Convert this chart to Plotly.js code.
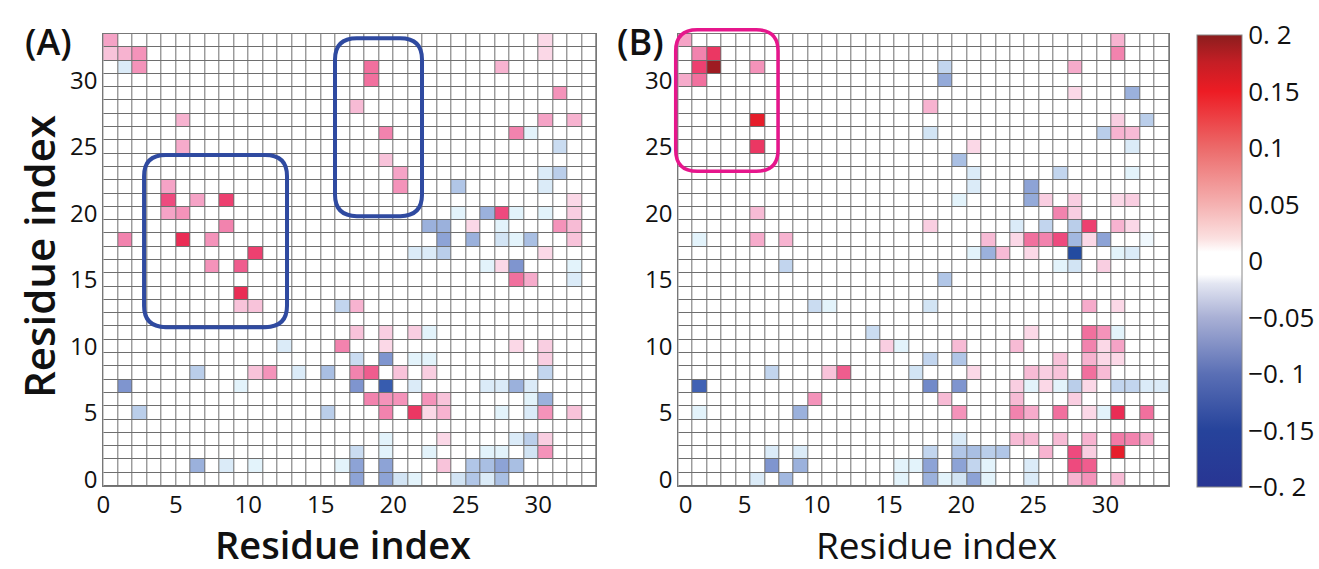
<!DOCTYPE html>
<html><head><meta charset="utf-8">
<script src="https://cdn.plot.ly/plotly-3.0.1.min.js"></script>
<style>html,body{margin:0;padding:0;background:#fff;}#plot{width:1319px;height:569px;}</style>
</head><body><div id="plot"></div>
<script>
// ---- Data: sparse non-zero cells (column residue, row residue, value) ----
const nRes = 34;
const tickLabels = ["0","5","10","15","20","25","30"];
const cbTickVals = [-0.2,-0.15,-0.1,-0.05,0,0.05,0.1,0.15,0.2];
const cbTickText = ["\u22120. 2","\u22120.15","\u22120. 1","\u22120.05","0","0.05","0.1","0.15","0. 2"];

// Panel A
const aCol = [0,30, 0,1,2,30, 1,2,18,27, 18, 31, 17, 5,30,32, 19,28,29, 5,31, 19, 20,30,31, 4,20,24,30,
  4,6,8,32, 4,5,24,26,27,28,30,32, 8,22,23,25,27,31,32, 1,5,7,23,25,27,28,29,32, 10,21,22,23,30,
  7,9,26,27,28,32, 28,29,32, 9, 9,10,16,17, 17,19,21,22, 12,16,19,28,30, 17,19,21,22,30,
  6,10,11,13,15,17,18,20,22,30, 1,9,17,19,21,26,27,28,29, 18,19,20,22,23,29,30,
  2,15,19,21,22,23,27,29,30,32, 19,23,28,29,30, 17,19,22,26,27,29,30,
  6,8,10,16,17,19,23,25,26,27,28, 17,19,20,21,24,25,26,27];
const aRow = [33,33, 32,32,32,32, 31,31,31,31, 30, 29, 28, 27,27,27, 26,26,26, 25,25, 24, 23,23,23, 22,22,22,22,
  21,21,21,21, 20,20,20,20,20,20,20,20, 19,19,19,19,19,19,19, 18,18,18,18,18,18,18,18,18, 17,17,17,17,17,
  16,16,16,16,16,16, 15,15,15, 14, 13,13,13,13, 11,11,11,11, 10,10,10,10,10, 9,9,9,9,9,
  8,8,8,8,8,8,8,8,8,8, 7,7,7,7,7,7,7,7,7, 6,6,6,6,6,6,6,
  5,5,5,5,5,5,5,5,5,5, 3,3,3,3,3, 2,2,2,2,2,2,2,
  1,1,1,1,1,1,1,1,1,1,1, 0,0,0,0,0,0,0,0];
const aVal = [0.05,0.02, 0.03,0.04,0.06,0.02, -0.02,0.06,0.08,0.04, 0.08, 0.06, 0.035, 0.04,0.05,0.04, 0.07,0.07,-0.015, 0.045,-0.03, 0.03, 0.05,-0.02,-0.04, 0.05,0.06,-0.045,-0.02,
  0.1,0.05,0.11,0.02, 0.05,0.06,-0.015,-0.06,0.1,-0.015,-0.015,0.025, 0.07,-0.06,-0.06,0.02,-0.015,0.06,0.035, 0.07,0.13,0.06,-0.07,-0.06,-0.025,-0.015,-0.05,0.03, 0.11,-0.02,-0.02,-0.04,0.02,
  0.06,0.09,-0.015,0.02,-0.08,-0.015, 0.08,0.045,-0.02, 0.13, 0.03,0.03,-0.035,0.04, 0.03,0.025,0.025,-0.015, -0.02,0.07,0.02,0.02,0.025, -0.03,-0.08,-0.015,-0.015,0.025,
  -0.04,0.03,0.06,-0.02,-0.05,0.07,0.09,0.03,0.025,-0.035, -0.08,-0.015,-0.08,-0.14,-0.02,-0.02,-0.02,-0.06,-0.02, 0.07,0.06,0.06,0.06,0.03,-0.015,-0.06,
  -0.04,-0.04,0.07,0.12,0.02,0.04,-0.015,-0.02,0.06,0.03, -0.015,0.02,-0.02,-0.04,0.025, -0.03,-0.015,-0.015,-0.015,-0.015,-0.025,0.06,
  -0.06,-0.02,-0.015,-0.015,-0.07,-0.07,0.03,-0.045,-0.05,-0.07,-0.05, -0.07,-0.07,-0.025,-0.015,-0.025,-0.045,-0.02,-0.05];

// Panel B
const bCol = [0,30, 1,2,30, 1,2,5,18,27, 0,1,18, 27,31, 17, 5,30,32, 17,29,30,31, 5,20,31, 19, 20,26,31, 20,24,
  19,24,25,27,30,31, 5,26,27, 17,23,25,27,28,30,31, 1,5,7,21,23,24,25,26,27,28,29,32, 20,21,22,24,27,30,31,
  7,26,27,29, 18, 9,10,17,28,30, 13,24,28,29,30, 14,15,19,23,28,29,30, 17,19,26,28,29,30,
  6,10,11,16,20,24,25,26,28,29, 1,17,19,23,24,25,26,27,28,30,31,32,33, 9,18,23,27,
  1,8,19,23,24,26,28,29,30,32, 19,23,24,26,28,30,31,32, 6,8,17,19,20,21,22,25,27,28,30,
  6,8,15,16,17,19,20,21,24,27,28, 5,7,15,17,18,19,20,21,24,27,28,30];
const bRow = [33,33, 32,32,32, 31,31,31,31,31, 30,30,30, 29,29, 28, 27,27,27, 26,26,26,26, 25,25,25, 24, 23,23,23, 22,22,
  21,21,21,21,21,21, 20,20,20, 19,19,19,19,19,19,19, 18,18,18,18,18,18,18,18,18,18,18,18, 17,17,17,17,17,17,17,
  16,16,16,16, 15, 13,13,13,13,13, 11,11,11,11,11, 10,10,10,10,10,10,10, 9,9,9,9,9,9,
  8,8,8,8,8,8,8,8,8,8, 7,7,7,7,7,7,7,7,7,7,7,7,7, 6,6,6,6,
  5,5,5,5,5,5,5,5,5,5, 3,3,3,3,3,3,3,3, 2,2,2,2,2,2,2,2,2,2,2,
  1,1,1,1,1,1,1,1,1,1,1, 0,0,0,0,0,0,0,0,0,0,0,0];
const bVal = [0.05,0.04, 0.07,0.12,0.07, 0.11,0.19,0.06,-0.035,0.045, 0.045,0.08,-0.065, 0.02,-0.06, 0.04, 0.15,0.025,-0.04, -0.025,-0.04,0.04,0.035, 0.12,0.02,-0.02, -0.05, -0.02,-0.035,-0.015, -0.02,-0.07,
  -0.015,-0.065,0.025,0.025,0.02,0.025, 0.035,0.07,0.025, 0.025,-0.02,-0.035,-0.04,0.11,0.04,0.02, -0.015,0.045,0.04,0.035,0.02,0.08,0.07,0.1,-0.055,0.02,-0.07,-0.01, -0.015,-0.06,0.035,0.02,-0.17,-0.015,-0.02,
  -0.035,-0.015,-0.025,0.025, -0.045, -0.03,-0.015,-0.025,0.045,0.02, -0.03,0.02,0.08,0.06,-0.015, 0.025,-0.015,0.035,0.035,0.07,0.02,0.05, -0.035,-0.045,0.03,0.04,0.02,0.02,
  -0.035,0.03,0.09,-0.025,0.02,0.035,0.025,0.03,0.08,0.035, -0.13,-0.09,-0.08,0.025,-0.015,0.02,-0.015,-0.04,0.02,-0.035,-0.035,-0.02,-0.02, 0.06,0.035,0.035,0.025,
  -0.015,-0.06,0.06,0.07,0.045,0.08,0.02,-0.015,0.13,0.08, -0.02,0.035,0.035,0.035,0.04,0.075,0.07,0.045, -0.02,-0.02,-0.035,-0.045,-0.05,-0.04,-0.045,0.04,0.1,0.025,0.15,
  -0.08,-0.06,-0.015,-0.015,-0.07,-0.07,-0.035,-0.015,-0.02,0.1,0.09, -0.02,-0.055,-0.015,-0.06,-0.015,-0.025,-0.07,-0.015,-0.02,0.04,0.06,0.035];

// ---- build matrices ----
function buildZ(cols, rows, vals){
  const z = [];
  for (let r = 0; r < nRes; r++){ z.push(new Array(nRes).fill(0)); }
  for (let i = 0; i < vals.length; i++){ z[rows[i]][cols[i]] = vals[i]; }
  return z;
}
const idx = Array.from({length:nRes},(_,i)=>i);
const zA = buildZ(aCol, aRow, aVal);
const zB = buildZ(bCol, bRow, bVal);

const cellScale = [
  [0,'#1e3a8f'],[0.1,'#2450a6'],[0.2,'#4a68b8'],[0.3,'#7f95cf'],[0.375,'#a9bfe3'],
  [0.425,'#cadcf1'],[0.4625,'#e3f3fb'],[0.49,'#ffffff'],[0.51,'#ffffff'],[0.5375,'#fce3ee'],
  [0.575,'#f8c3da'],[0.625,'#f5a3c6'],[0.675,'#f283ae'],[0.75,'#ee4a7e'],[0.825,'#ea2d55'],
  [0.875,'#e61e2b'],[0.975,'#9e1b22'],[1,'#8a1a1e']];
const barScale = [
  [0,'#283593'],[0.125,'#26439b'],[0.25,'#5a6fb5'],[0.375,'#a9b0d5'],[0.45,'#e3e6f2'],
  [0.47,'#ffffff'],[0.52,'#ffffff'],[0.55,'#fbe0e0'],[0.625,'#f5b1b1'],[0.75,'#ec6a6a'],
  [0.875,'#ed1c24'],[0.94,'#c41e25'],[1,'#8b1d1d']];

const W = 1319, H = 569;
const FONT = 'Open Sans, Noto Sans, sans-serif';
const domA = [103.3/W, 596.3/W], domB = [678.3/W, 1169/W], domY = [(H-486)/H, (H-34)/H];
const axRange = [-0.5, 33.5];

const common = {type:'heatmap', x: idx, y: idx, zmin:-0.2, zmax:0.2, xgap:1, ygap:1,
  colorscale: cellScale, showscale:false, hoverinfo:'x+y+z'};

const traces = [
  Object.assign({}, common, {z: zA, xaxis:'x', yaxis:'y'}),
  Object.assign({}, common, {z: zB, xaxis:'x2', yaxis:'y2'}),
  // colour bar (legend of the colour scale)
  {type:'heatmap', z: zB, x: idx, y: idx, xaxis:'x2', yaxis:'y2', zmin:-0.2, zmax:0.2,
   colorscale: barScale, opacity:0, hoverinfo:'skip', showscale:true,
   colorbar:{x:1197/W, xref:'paper', xanchor:'left', y:(H-261)/H, yref:'paper', yanchor:'middle',
     len:452/H, lenmode:'fraction', thickness:45, thicknessmode:'pixels', xpad:0, ypad:0,
     outlinecolor:'#888', outlinewidth:1, ticks:'', tickvals: cbTickVals, ticktext: cbTickText,
     tickfont:{family:FONT, size:26, color:'#111'}}}
];

// rounded rectangle path, given in data units of a panel, drawn in paper units (not clipped)
function roundRect(dom, x0,x1,y0,y1,rx,ry){
  const px = v => dom[0] + (v - axRange[0]) / (axRange[1]-axRange[0]) * (dom[1]-dom[0]);
  const py = v => domY[0] + (v - axRange[0]) / (axRange[1]-axRange[0]) * (domY[1]-domY[0]);
  const X0=px(x0), X1=px(x1), Y0=py(y0), Y1=py(y1);
  const RX = px(x0+rx)-X0, RY = py(y0+ry)-Y0;
  return `M ${X0+RX},${Y1} L ${X1-RX},${Y1} Q ${X1},${Y1} ${X1},${Y1-RY} L ${X1},${Y0+RY} Q ${X1},${Y0} ${X1-RX},${Y0} ` +
         `L ${X0+RX},${Y0} Q ${X0},${Y0} ${X0},${Y0+RY} L ${X0},${Y1-RY} Q ${X0},${Y1} ${X0+RX},${Y1} Z`;
}

const axX = {range:axRange, showgrid:false, zeroline:false, showline:true, mirror:true,
  linecolor:'#777', linewidth:1, ticks:'', ticklabelstandoff:-3,
  tickfont:{family:FONT, size:24, color:'#111'}, fixedrange:true};
const axY = {range:axRange, showgrid:false, zeroline:false, showline:true, mirror:true,
  linecolor:'#777', linewidth:1, ticks:'', tickvals:[0,5,10,15,20,25,30], ticktext: tickLabels,
  tickfont:{family:FONT, size:24, color:'#111'}, fixedrange:true};

const layout = {
  width: W, height: H, margin:{l:0,r:0,t:0,b:0}, paper_bgcolor:'#fff', plot_bgcolor:'#6e6e6e',
  showlegend:false,
  xaxis: Object.assign({}, axX, {domain:domA, anchor:'y',
     tickvals:[-0.5,4.5,9.5,14.5,19.5,24.5,29.5], ticktext: tickLabels}),
  yaxis: Object.assign({}, axY, {domain:domY, anchor:'x'}),
  xaxis2: Object.assign({}, axX, {domain:domB, anchor:'y2',
     tickvals:[0,4.1,9.1,14.1,19.1,24.1,29.1], ticktext: tickLabels}),
  yaxis2: Object.assign({}, axY, {domain:domY, anchor:'x2'}),
  shapes: [
    {type:'path', xref:'paper', yref:'paper', path: roundRect(domA, 2.31,12.17,11.45,24.4,1.5,1.6), line:{color:'#2f4aa0', width:4}},
    {type:'path', xref:'paper', yref:'paper', path: roundRect(domA, 15.48,21.48,19.8,33.18,1.5,1.6), line:{color:'#2f4aa0', width:4}},
    {type:'path', xref:'paper', yref:'paper', path: roundRect(domB, -0.68,6.41,23.18,33.82,1.5,1.6), line:{color:'#e6168c', width:3.5}}
  ],
  annotations: [
    {text:'(A)', xref:'paper', yref:'paper', x:48/W, y:1-41/H, showarrow:false, xanchor:'center', yanchor:'middle',
     font:{family:FONT, size:36, color:'#111', weight:600}},
    {text:'(B)', xref:'paper', yref:'paper', x:640/W, y:1-41/H, showarrow:false, xanchor:'center', yanchor:'middle',
     font:{family:FONT, size:36, color:'#111', weight:600}},
    {text:'Residue index', xref:'paper', yref:'paper', x:343/W, y:1-544/H, showarrow:false, xanchor:'center', yanchor:'middle',
     font:{family:FONT, size:38, color:'#111', weight:600}},
    {text:'Residue index', xref:'paper', yref:'paper', x:936/W, y:1-544/H, showarrow:false, xanchor:'center', yanchor:'middle',
     font:{family:FONT, size:37, color:'#111', weight:400}},
    {text:'Residue index', xref:'paper', yref:'paper', x:38/W, y:1-257/H, showarrow:false, textangle:-90, xanchor:'center', yanchor:'middle',
     font:{family:FONT, size:42, color:'#111', weight:600}}
  ]
};

Plotly.newPlot('plot', traces, layout, {displayModeBar:false, staticPlot:true});
</script>
</body></html>
